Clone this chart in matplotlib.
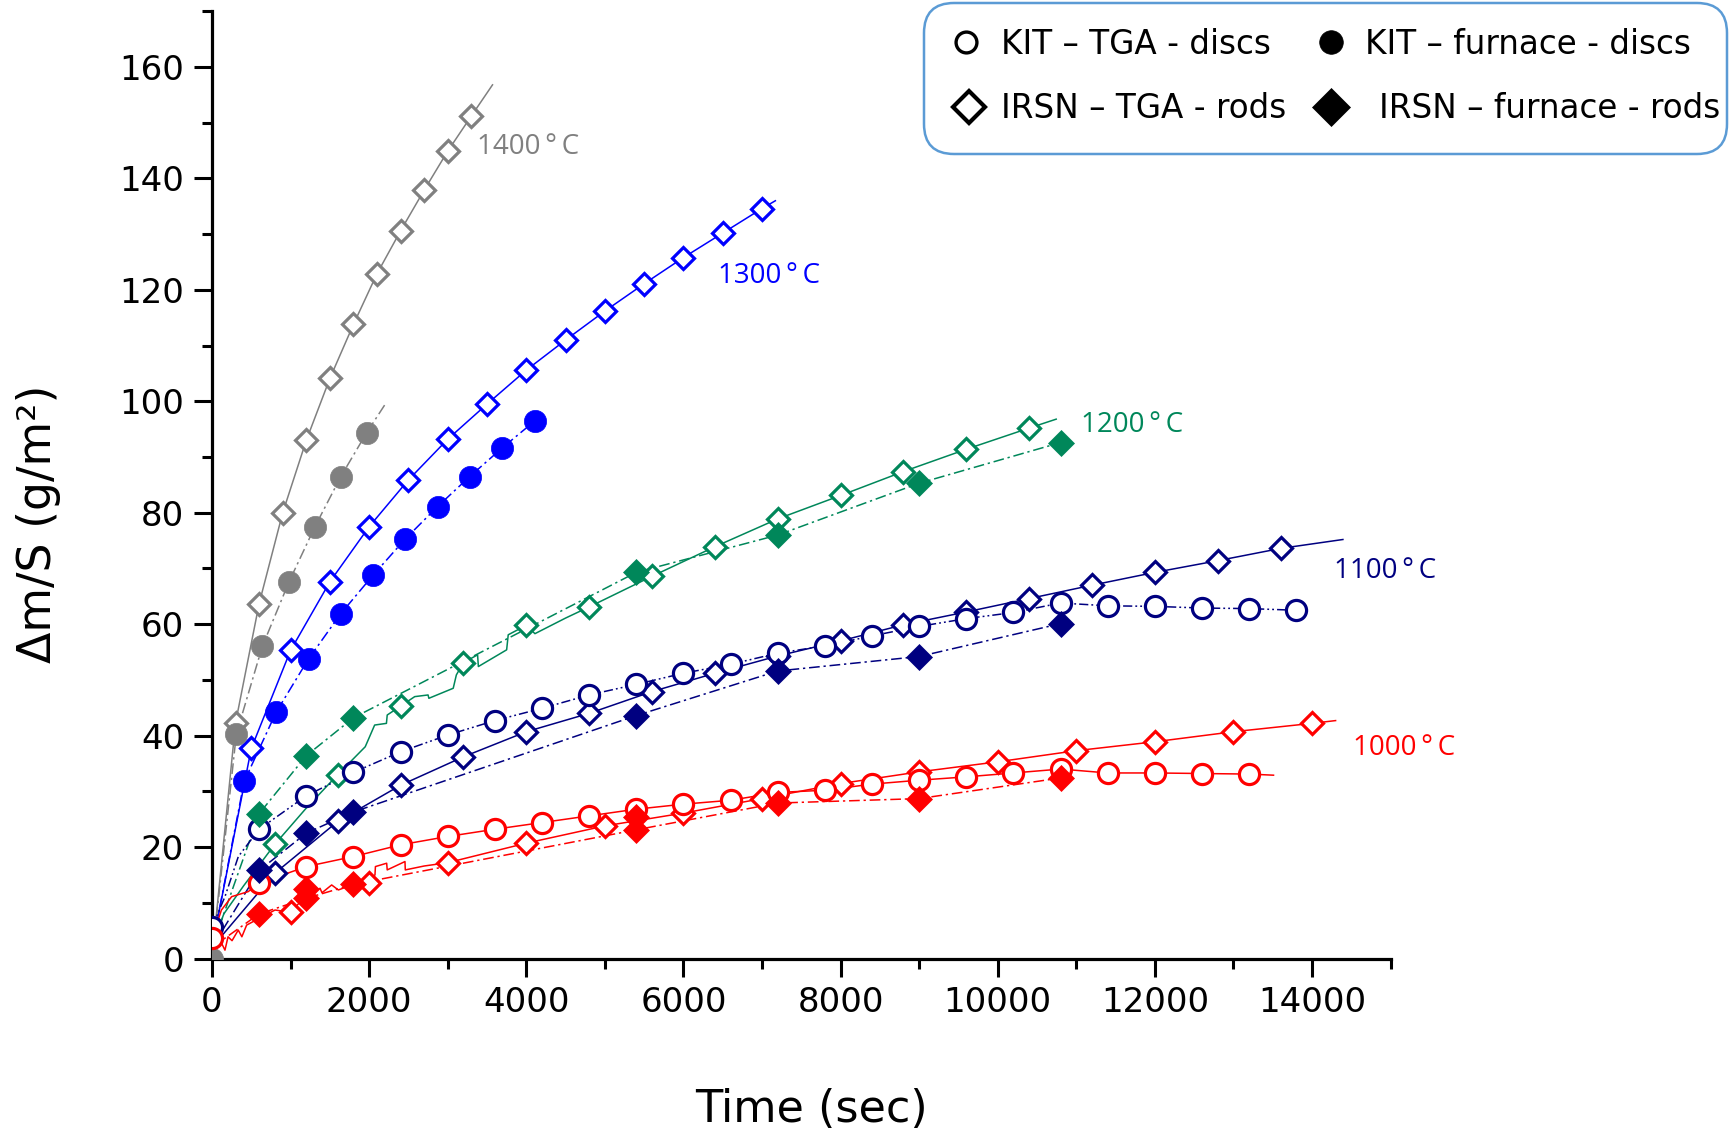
import matplotlib
matplotlib.use("Agg")
import matplotlib.pyplot as plt
from matplotlib.patches import FancyBboxPatch
from matplotlib.lines import Line2D
from matplotlib.ticker import MultipleLocator

# ---------------- data ----------------
# 1400 C
t1400_tga = [300, 600, 900, 1200, 1500, 1800, 2100, 2400, 2700, 3000, 3300]
v1400_tga = [42.3, 63.7, 80.0, 93.0, 104.1, 113.8, 122.9, 130.6, 137.9, 144.9, 151.2]
t1400_fur = [0, 310, 640, 980, 1310, 1640, 1970]
v1400_fur = [0.0, 40.3, 56.0, 67.6, 77.5, 86.5, 94.4]
# 1300 C
t1300_tga = [500, 1000, 1500, 2000, 2500, 3000, 3500, 4000, 4500, 5000, 5500, 6000, 6500, 7000]
v1300_tga = [37.7, 55.3, 67.6, 77.5, 85.9, 93.2, 99.5, 105.6, 111.0, 116.2, 121.1, 125.8, 130.2, 134.6]
t1300_fur = [410, 820, 1230, 1640, 2050, 2460, 2870, 3280, 3690, 4110]
v1300_fur = [31.8, 44.3, 53.8, 61.9, 68.8, 75.3, 81.1, 86.5, 91.6, 96.5]
# 1200 C
t1200_tga = [800, 1600, 2400, 3200, 4000, 4800, 5600, 6400, 7200, 8000, 8800, 9600, 10400]
v1200_tga = [20.5, 33.0, 45.3, 53.1, 59.8, 63.1, 68.6, 73.9, 78.9, 83.1, 87.4, 91.4, 95.2]
t1200_fur = [600, 1200, 1800, 5400, 7200, 9000, 10800]
v1200_fur = [26.0, 36.4, 43.2, 69.3, 76.0, 85.3, 92.6]
# 1100 C
t1100_kit = [0, 600, 1200, 1800, 2400, 3000, 3600, 4200, 4800, 5400, 6000, 6600, 7200,
             7800, 8400, 9000, 9600, 10200, 10800, 11400, 12000, 12600, 13200, 13800]
v1100_kit = [5.6, 23.2, 29.2, 33.4, 37.1, 40.1, 42.7, 44.9, 47.3, 49.2, 51.2, 52.8, 54.8,
             56.1, 57.9, 59.6, 61.0, 62.1, 63.8, 63.3, 63.2, 62.9, 62.8, 62.5]
t1100_tga = [800, 1600, 2400, 3200, 4000, 4800, 5600, 6400, 7200, 8000, 8800, 9600,
             10400, 11200, 12000, 12800, 13600]
v1100_tga = [15.3, 24.6, 31.1, 36.2, 40.7, 44.0, 47.9, 51.2, 54.3, 57.0, 59.9, 62.2,
             64.6, 67.0, 69.3, 71.4, 73.6]
t1100_fur = [600, 1200, 1800, 5400, 7200, 9000, 10800]
v1100_fur = [15.8, 22.5, 26.3, 43.6, 51.6, 54.2, 60.1]
# 1000 C
t1000_kit = [0, 600, 1200, 1800, 2400, 3000, 3600, 4200, 4800, 5400, 6000, 6600, 7200,
             7800, 8400, 9000, 9600, 10200, 10800, 11400, 12000, 12600, 13200]
v1000_kit = [3.6, 13.5, 16.5, 18.3, 20.4, 21.9, 23.2, 24.4, 25.6, 26.8, 27.7, 28.4, 29.8,
             30.2, 31.3, 32.0, 32.6, 33.3, 34.0, 33.3, 33.3, 33.2, 33.1]
t1000_tga = [1000, 2000, 3000, 4000, 5000, 6000, 7000, 8000, 9000, 10000, 11000, 12000, 13000, 14000]
v1000_tga = [8.3, 13.6, 17.2, 20.7, 23.8, 26.1, 28.7, 31.4, 33.5, 35.3, 37.3, 38.9, 40.7, 42.2]
t1000_fur = [600, 1200, 1800, 5400, 7200, 9000, 10800]
v1000_fur = [8.0, 10.8, 13.3, 23.1, 27.9, 28.7, 32.4]
t1000_fur2 = [1200, 5400]
v1000_fur2 = [12.5, 25.4]

# raw (noisy) early parts of some measured curves
t1200_raw = [0, 150, 400, 800, 1200, 1600, 1950, 2070, 2220, 2230, 2400, 2580, 2750, 2760,
             3070, 3110, 3200, 3380, 3390, 3750, 3770, 4000, 4110, 4500]
v1200_raw = [2.0, 8.0, 13.0, 20.5, 27.0, 33.0, 38.0, 41.9, 42.2, 43.7, 45.3, 47.0, 47.3, 46.7,
             48.5, 50.9, 53.1, 54.5, 52.4, 55.4, 58.1, 59.8, 58.3, 61.1]
t1000_raw = [0, 60, 165, 204, 255, 334, 380, 441, 600, 802, 1000, 1184, 1375, 1400, 1523,
             1608, 1800, 2000, 2074, 2080, 2223, 2230, 2456, 2460, 2700, 3000]
v1000_raw = [2.0, 4.5, 1.5, 3.9, 3.2, 5.1, 3.9, 6.0, 7.2, 8.7, 8.3, 11.1, 12.6, 11.8, 13.2,
             12.3, 13.3, 13.8, 15.0, 16.5, 17.1, 15.9, 17.4, 15.9, 16.6, 17.2]
t1000_kit_early = [120, 250, 460]
v1000_kit_early = [8.7, 11.1, 12.0]
t1100_kit_early = [165, 335]
v1100_kit_early = [11.1, 18.3]

# curve start / end points (fitted lines extend beyond the last marker)
line_ends = {
    "1400_tga": (3570, 156.8), "1400_fur": (2205, 99.5),
    "1300_tga": (7170, 136.0), "1300_fur": (4110, 96.5),
    "1200_tga": (10744, 96.8), "1200_fur": (10730, 92.5),
    "1100_kit": (13800, 62.5), "1100_tga": (14393, 75.2), "1100_fur": (10800, 60.1),
    "1000_kit": (13510, 32.9), "1000_tga": (14300, 42.7), "1000_fur": (10800, 32.4),
}
line_starts = {
    "1400_tga": 0.0, "1400_fur": 0.0, "1300_tga": 2.0, "1300_fur": 2.0,
    "1200_tga": 2.0, "1200_fur": 2.0, "1100_kit": 5.6, "1100_tga": 2.0,
    "1100_fur": 2.0, "1000_kit": 3.6, "1000_tga": 2.0, "1000_fur": 2.0,
}

temp_labels = ["1400\u2009\u00b0\u2009C", "1300\u2009\u00b0\u2009C", "1200\u2009\u00b0\u2009C",
               "1100\u2009\u00b0\u2009C", "1000\u2009\u00b0\u2009C"]
temp_label_pos = [(3370, 145.7), (6440, 122.5), (11060, 95.8), (14280, 69.5), (14520, 37.8)]

x_ticks = [0, 2000, 4000, 6000, 8000, 10000, 12000, 14000]
y_ticks = [0, 20, 40, 60, 80, 100, 120, 140, 160]

legend_labels = ["KIT \u2013 TGA - discs", "KIT \u2013 furnace - discs",
                 "IRSN \u2013 TGA - rods", "IRSN \u2013 furnace - rods"]

# ---------------- styles ----------------
C1400 = "#808080"
C1300 = "#0000FF"
C1200 = "#00875A"
C1100 = "#000080"
C1000 = "#FF0000"
DASHDOT = (0, (7, 2.5, 1.5, 2.5))
DASHDOTDOT = (0, (6, 2, 1.2, 2, 1.2, 2))

W, H = 1730, 1137
fig = plt.figure(figsize=(W / 100, H / 100), dpi=100)
ax = fig.add_axes([212 / W, 1 - 958.5 / H, (1390.6 - 212) / W, (958.5 - 11.3) / H])
ax.set_xlim(0, 15000)
ax.set_ylim(0, 170)


def curve(key, t, v, color, ls, raw=None, extra=None):
    pts = list(zip(t, v))
    if t[0] != 0:
        pts = [(0, line_starts[key])] + pts
    if extra is not None:
        pts = sorted(pts + list(zip(*extra)), key=lambda p: p[0])
    if raw is not None:
        rt, rv = raw
        pts = list(zip(rt, rv)) + [p for p in pts if p[0] > rt[-1]]
    ex, ey = line_ends[key]
    if ex > pts[-1][0]:
        pts.append((ex, ey))
    xs = [p[0] for p in pts]
    ys = [p[1] for p in pts]
    ax.plot(xs, ys, color=color, lw=1.1, ls=ls, zorder=2)


def marks(t, v, color, kind):
    if kind == "open_circle":
        ax.plot(t, v, ls="none", marker="o", ms=14.5, mfc="white", mec=color, mew=2.3, zorder=4)
    elif kind == "fill_circle":
        ax.plot(t, v, ls="none", marker="o", ms=16, mfc=color, mec=color, mew=0.5, zorder=4)
    elif kind == "open_diamond":
        ax.plot(t, v, ls="none", marker="D", ms=11.5, mfc="white", mec=color, mew=2.3, zorder=3)
    elif kind == "fill_diamond":
        ax.plot(t, v, ls="none", marker="D", ms=13, mfc=color, mec=color, mew=0.5, zorder=5)


# lines
curve("1400_tga", t1400_tga, v1400_tga, C1400, "-")
curve("1400_fur", t1400_fur, v1400_fur, C1400, DASHDOT)
curve("1300_tga", t1300_tga, v1300_tga, C1300, "-")
curve("1300_fur", t1300_fur, v1300_fur, C1300, DASHDOT)
curve("1200_tga", t1200_tga, v1200_tga, C1200, "-", raw=(t1200_raw, v1200_raw))
curve("1200_fur", t1200_fur, v1200_fur, C1200, DASHDOT)
curve("1100_kit", t1100_kit, v1100_kit, C1100, DASHDOTDOT, extra=(t1100_kit_early, v1100_kit_early))
curve("1100_tga", t1100_tga, v1100_tga, C1100, "-")
curve("1100_fur", t1100_fur, v1100_fur, C1100, DASHDOT)
curve("1000_kit", t1000_kit, v1000_kit, C1000, "-", extra=(t1000_kit_early, v1000_kit_early))
curve("1000_tga", t1000_tga, v1000_tga, C1000, "-", raw=(t1000_raw, v1000_raw))
curve("1000_fur", t1000_fur, v1000_fur, C1000, DASHDOT)

# markers
marks(t1400_tga, v1400_tga, C1400, "open_diamond")
marks(t1400_fur, v1400_fur, C1400, "fill_circle")
marks(t1300_tga, v1300_tga, C1300, "open_diamond")
marks(t1300_fur, v1300_fur, C1300, "fill_circle")
marks(t1200_tga, v1200_tga, C1200, "open_diamond")
marks(t1200_fur, v1200_fur, C1200, "fill_diamond")
marks(t1100_tga, v1100_tga, C1100, "open_diamond")
marks(t1100_kit, v1100_kit, C1100, "open_circle")
marks(t1100_fur, v1100_fur, C1100, "fill_diamond")
marks(t1000_tga, v1000_tga, C1000, "open_diamond")
marks(t1000_kit, v1000_kit, C1000, "open_circle")
marks(t1000_fur, v1000_fur, C1000, "fill_diamond")
marks(t1000_fur2, v1000_fur2, C1000, "fill_diamond")

# temperature labels
for lab, (tx, ty), col in zip(temp_labels, temp_label_pos, [C1400, C1300, C1200, C1100, C1000]):
    ax.text(tx, ty, lab, color=col, fontsize=20, va="center", ha="left",
            family=["Open Sans", "DejaVu Sans"], clip_on=False)

# axes styling
for s in ["top", "right"]:
    ax.spines[s].set_visible(False)
for s in ["left", "bottom"]:
    ax.spines[s].set_linewidth(2.3)
ax.set_xticks(x_ticks)
ax.set_yticks(y_ticks)
ax.xaxis.set_minor_locator(MultipleLocator(1000))
ax.yaxis.set_minor_locator(MultipleLocator(10))
ax.tick_params(which="major", direction="out", length=13, width=2.2, labelsize=24.5, pad=7)
ax.tick_params(which="minor", direction="out", length=7, width=2.2)
ax.set_xlabel("Time (sec)", fontsize=32)
ax.set_ylabel("\u0394m/S (g/m\u00b2)", fontsize=33)
ax.xaxis.set_label_coords((811 - 212) / (1390.6 - 212), -(1109 - 958.5) / (958.5 - 11.3))
ax.yaxis.set_label_coords(-(212 - 39) / (1390.6 - 212), (958.5 - 524) / (958.5 - 11.3))
ax.xaxis.label.set_va("center")
ax.yaxis.label.set_va("center")

# ---------------- legend box (drawn in pixel space) ----------------
def px(x, y):
    return x / 100.0, (H - y) / 100.0


tr = fig.dpi_scale_trans
bx0, by0 = px(924, 154)
box = FancyBboxPatch((bx0, by0), (1727 - 924) / 100.0, (154 - 3) / 100.0,
                     boxstyle="round,pad=0,rounding_size=0.3", transform=tr,
                     fc="white", ec="#5B9BD5", lw=1.8, zorder=10)
fig.add_artist(box)

leg_items = [
    ((966, 42), dict(marker="o", ms=15, mfc="white", mec="black", mew=2.4), (1001, 44)),
    ((1331, 42), dict(marker="o", ms=17, mfc="black", mec="black", mew=0.5), (1365, 44)),
    ((969, 107), dict(marker="D", ms=16, mfc="white", mec="black", mew=3), (1001, 109)),
    ((1331, 107), dict(marker="D", ms=19, mfc="black", mec="black", mew=0.5), (1379, 109)),
]
for (mpos, mstyle, tpos), lab in zip(leg_items, legend_labels):
    mx, my = px(*mpos)
    fig.add_artist(Line2D([mx], [my], transform=tr, ls="none", zorder=11, **mstyle))
    tx, ty = px(*tpos)
    fig.text(tx, ty, lab, transform=tr, fontsize=23.5, va="center", ha="left", zorder=11)

fig.savefig("out.png", dpi=100)
